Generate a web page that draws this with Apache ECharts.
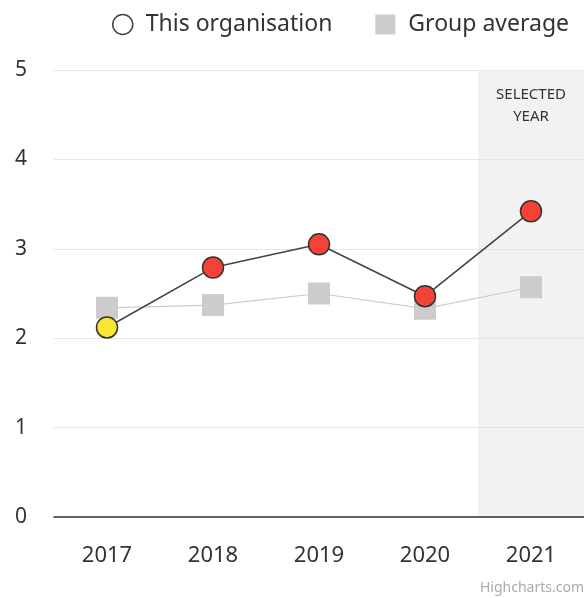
<!DOCTYPE html>
<html>
<head>
<meta charset="utf-8">
<script src="https://cdn.jsdelivr.net/npm/echarts@6/dist/echarts.min.js"></script>
<style>
  html, body { margin: 0; padding: 0; background: #fff; }
  #main { width: 584px; height: 598px; }
</style>
</head>
<body>
<div id="main"></div>
<script>
var years = ['2017', '2018', '2019', '2020', '2021'];
var orgValues = [2.12, 2.79, 3.05, 2.47, 3.42];
var groupValues = [2.34, 2.37, 2.50, 2.33, 2.57];
var selectedYear = '2021';
var yTicks = [0, 1, 2, 3, 4, 5];

var font = 'Noto Sans';
var chart = echarts.init(document.getElementById('main'));

// first year yellow, rest red
var orgData = orgValues.map(function (v, i) {
    return {
        value: v,
        itemStyle: { color: i === 0 ? '#fbe733' : '#f44336' }
    };
});

// background band for the selected year
var bandData = years.map(function (y) {
    return y === selectedYear ? yTicks[yTicks.length - 1] : null;
});

var option = {
    animation: false,
    textStyle: { fontFamily: font },
    legend: {
        top: 8,
        right: 10,
        itemGap: 43,
        itemWidth: 36,
        itemHeight: 20,
        symbolKeepAspect: true,
        textStyle: { fontSize: 23, color: '#333', fontFamily: font },
        data: [
            { name: 'This organisation', icon: 'circle',
              itemStyle: { color: '#fff', borderColor: '#444', borderWidth: 1.5 } },
            { name: 'Group average', icon: 'path://M0,0L20,0L20,20L0,20Z',
              itemStyle: { color: '#cccccc', borderWidth: 0 } }
        ]
    },
    grid: { left: 54, right: -2, top: 70, bottom: 81 },
    xAxis: {
        type: 'category',
        data: years,
        z: 2,
        axisLine: { lineStyle: { color: '#333', width: 1.5 } },
        axisTick: { show: false },
        axisLabel: { fontSize: 22, color: '#333', margin: 28, fontFamily: font }
    },
    yAxis: {
        type: 'value',
        min: 0,
        max: 5,
        interval: 1,
        z: 2,
        axisLabel: { fontSize: 21, color: '#333', margin: 27, fontFamily: font },
        splitLine: { lineStyle: { color: '#e6e6e6', width: 1 } }
    },
    series: [
        {
            name: 'band',
            type: 'bar',
            data: bandData,
            barWidth: '100%',
            barGap: '-100%',
            silent: true,
            z: 1,
            itemStyle: { color: '#f2f2f2' },
            label: {
                show: true,
                position: 'insideTop',
                distance: 14,
                formatter: 'SELECTED\nYEAR',
                fontSize: 15,
                lineHeight: 22,
                color: '#333',
                fontFamily: font
            }
        },
        {
            name: 'Group average',
            type: 'line',
            data: groupValues,
            symbol: 'rect',
            symbolSize: 22,
            z: 3,
            itemStyle: { color: '#cccccc' },
            lineStyle: { color: '#cccccc', width: 1.2 }
        },
        {
            name: 'This organisation',
            type: 'line',
            data: orgData,
            symbol: 'circle',
            symbolSize: 21,
            z: 4,
            itemStyle: { borderColor: '#333', borderWidth: 1.5 },
            lineStyle: { color: '#444', width: 1.6 }
        }
    ],
    graphic: [{
        type: 'text',
        right: 0,
        bottom: 3,
        style: { text: 'Highcharts.com', fontSize: 14, fill: '#aaa', fontFamily: font }
    }]
};

chart.setOption(option);
</script>
</body>
</html>
